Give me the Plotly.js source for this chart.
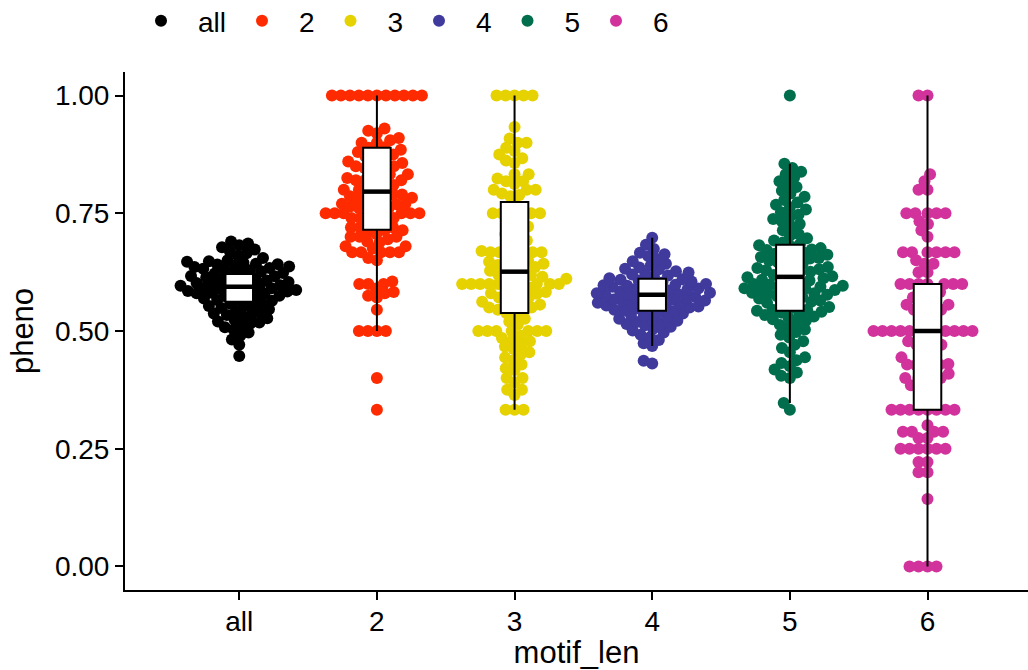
<!DOCTYPE html>
<html><head><meta charset="utf-8">
<script src="https://cdn.plot.ly/plotly-3.0.1.min.js"></script>
<style>html,body{margin:0;padding:0;background:#fff}#chart{width:1028px;height:670px}</style>
</head><body><div id="chart"></div>
<script>
// ---------------- data ----------------
const categories = ['all', '2', '3', '4', '5', '6'];
const yTickVals = [0, 0.25, 0.5, 0.75, 1];
const yTickText = ['0.00', '0.25', '0.50', '0.75', '1.00'];

const phenoAll = [0.447, 0.471, 0.482, 0.49, 0.497, 0.503, 0.508, 0.512, 0.516, 0.518, 0.52, 0.524, 0.527, 0.531, 0.534, 0.535, 0.537, 0.54, 0.543, 0.546, 0.549, 0.552, 0.553, 0.555, 0.558, 0.561, 0.564, 0.566, 0.567, 0.569, 0.572, 0.574, 0.575, 0.577, 0.579, 0.58, 0.581, 0.583, 0.584, 0.585, 0.587, 0.588, 0.589, 0.591, 0.592, 0.593, 0.595, 0.596, 0.597, 0.6, 0.601, 0.602, 0.604, 0.605, 0.607, 0.609, 0.61, 0.612, 0.614, 0.616, 0.617, 0.62, 0.622, 0.623, 0.625, 0.627, 0.629, 0.63, 0.632, 0.634, 0.636, 0.637, 0.639, 0.641, 0.642, 0.643, 0.645, 0.647, 0.648, 0.65, 0.655, 0.66, 0.665, 0.669, 0.673, 0.678, 0.682, 0.686, 0.69];

const pheno2 = [1, 1, 1, 1, 1, 1, 1, 1, 1, 1, 1,
  0.93, 0.925, 0.92, 0.91, 0.905, 0.9, 0.9, 0.89, 0.889, 0.885, 0.88, 0.88,
  0.875, 0.87, 0.867, 0.86, 0.86, 0.857, 0.85, 0.85, 0.85, 0.846, 0.84,
  0.833, 0.833, 0.83, 0.825, 0.82, 0.82, 0.82, 0.818, 0.81, 0.81, 0.8, 0.8, 0.8, 0.8,
  0.79, 0.79, 0.786, 0.783, 0.78, 0.78, 0.78, 0.778, 0.77, 0.77, 0.769, 0.765, 0.76, 0.76, 0.76, 0.76,
  0.75, 0.75, 0.75, 0.75, 0.75, 0.75, 0.745, 0.74, 0.74, 0.74, 0.735, 0.73,
  0.727, 0.72, 0.72, 0.72, 0.714, 0.714, 0.71, 0.706, 0.7, 0.7, 0.7, 0.695, 0.69,
  0.688, 0.68, 0.68, 0.675, 0.667, 0.667, 0.667, 0.667, 0.667, 0.655, 0.65,
  0.605, 0.6, 0.6, 0.6, 0.59, 0.583, 0.58, 0.575, 0.571, 0.545,
  0.5, 0.5, 0.5, 0.5, 0.4, 0.333];

const pheno3 = [1, 1, 1, 1, 1, 0.933, 0.909, 0.9, 0.9, 0.889, 0.882, 0.875, 0.867, 0.862, 0.857,
  0.833, 0.833, 0.824, 0.818, 0.818, 0.812, 0.8, 0.8, 0.8, 0.792, 0.789, 0.786, 0.769,
  0.75, 0.75, 0.75, 0.75, 0.75, 0.741, 0.733, 0.722, 0.72, 0.714, 0.706, 0.7, 0.692, 0.684, 0.68,
  0.67, 0.667, 0.667, 0.667, 0.667, 0.667, 0.667, 0.654, 0.65, 0.647, 0.645, 0.643, 0.64, 0.636, 0.636,
  0.632, 0.628, 0.625, 0.62, 0.619, 0.615, 0.611, 0.61, 0.609, 0.605, 0.6, 0.6, 0.6, 0.6, 0.6, 0.6, 0.6, 0.6,
  0.593, 0.59, 0.588, 0.583, 0.58, 0.579, 0.577, 0.571, 0.571, 0.567, 0.562, 0.56, 0.556, 0.552,
  0.55, 0.55, 0.545, 0.545, 0.538, 0.533, 0.526, 0.52, 0.514, 0.5, 0.5, 0.5, 0.5, 0.5, 0.5, 0.5,
  0.49, 0.485, 0.481, 0.478, 0.471, 0.467, 0.462, 0.455, 0.45, 0.444, 0.438, 0.429, 0.421,
  0.417, 0.4, 0.4, 0.391, 0.375, 0.375, 0.364, 0.333, 0.333, 0.333];

const pheno4 = [0.431, 0.437, 0.468, 0.474, 0.481, 0.487, 0.492, 0.497, 0.501, 0.505, 0.509, 0.512, 0.515, 0.516, 0.519, 0.522, 0.525, 0.526, 0.529, 0.532, 0.534, 0.537, 0.539, 0.542, 0.544, 0.545, 0.546, 0.548, 0.55, 0.551, 0.552, 0.554, 0.556, 0.557, 0.558, 0.56, 0.562, 0.563, 0.565, 0.566, 0.567, 0.569, 0.57, 0.572, 0.574, 0.575, 0.576, 0.577, 0.579, 0.58, 0.581, 0.583, 0.584, 0.586, 0.588, 0.589, 0.59, 0.592, 0.594, 0.596, 0.597, 0.598, 0.6, 0.602, 0.603, 0.605, 0.607, 0.609, 0.61, 0.612, 0.615, 0.618, 0.62, 0.621, 0.624, 0.627, 0.631, 0.632, 0.635, 0.639, 0.643, 0.648, 0.653, 0.659, 0.663, 0.666, 0.674, 0.683, 0.698];

const pheno5 = [0.333, 0.347, 0.4, 0.405, 0.412, 0.418, 0.425, 0.432, 0.438, 0.444, 0.455, 0.464, 0.471, 0.478, 0.486, 0.492, 0.498, 0.503, 0.508, 0.513, 0.518, 0.522, 0.525, 0.528, 0.531, 0.534, 0.536, 0.539, 0.541, 0.543, 0.545, 0.545, 0.548, 0.551, 0.555, 0.558, 0.56, 0.562, 0.565, 0.567, 0.569, 0.572, 0.574, 0.577, 0.579, 0.58, 0.581, 0.583, 0.585, 0.587, 0.589, 0.59, 0.591, 0.593, 0.594, 0.596, 0.599, 0.6, 0.602, 0.604, 0.607, 0.609, 0.611, 0.612, 0.614, 0.616, 0.619, 0.621, 0.624, 0.626, 0.629, 0.63, 0.631, 0.634, 0.636, 0.639, 0.643, 0.646, 0.649, 0.651, 0.654, 0.655, 0.657, 0.659, 0.662, 0.664, 0.667, 0.669, 0.672, 0.673, 0.676, 0.679, 0.682, 0.685, 0.688, 0.692, 0.697, 0.702, 0.706, 0.714, 0.722, 0.727, 0.733, 0.738, 0.742, 0.747, 0.752, 0.758, 0.763, 0.768, 0.773, 0.778, 0.785, 0.792, 0.798, 0.806, 0.812, 0.818, 0.826, 0.833, 0.838, 0.846, 0.855, 1.0];

const pheno6 = [1, 1, 0.833, 0.818, 0.8, 0.8, 0.75, 0.75, 0.75, 0.75, 0.75, 0.733, 0.727, 0.714, 0.7,
  0.667, 0.667, 0.667, 0.667, 0.667, 0.667, 0.65, 0.643, 0.643, 0.625, 0.625,
  0.6, 0.6, 0.6, 0.6, 0.6, 0.6, 0.6, 0.583, 0.571, 0.571, 0.571, 0.556, 0.556, 0.556,
  0.545, 0.545, 0.533, 0.533, 0.52, 0.5, 0.5, 0.5, 0.5, 0.5, 0.5, 0.5, 0.5, 0.5, 0.5, 0.5, 0.5,
  0.478, 0.471, 0.471, 0.462, 0.462, 0.444, 0.444, 0.43, 0.429, 0.429, 0.428, 0.417, 0.417, 0.409,
  0.4, 0.4, 0.4, 0.4, 0.385, 0.385, 0.375, 0.375, 0.357, 0.35,
  0.333, 0.333, 0.333, 0.333, 0.333, 0.333, 0.333, 0.333, 0.3, 0.286, 0.286, 0.286, 0.286,
  0.273, 0.273, 0.25, 0.25, 0.25, 0.25, 0.25, 0.25, 0.222, 0.222, 0.2, 0.2, 0.143, 0, 0, 0, 0];

// box statistics
const boxLower  = [0.471, 0.5,   0.333, 0.468, 0.347, 0];
const boxQ1     = [0.562, 0.715, 0.538, 0.543, 0.543, 0.333];
const boxMedian = [0.594, 0.796, 0.626, 0.577, 0.615, 0.5];
const boxQ3     = [0.621, 0.889, 0.774, 0.611, 0.683, 0.6];
const boxUpper  = [0.69,  1,     1,     0.698, 0.855, 1];

// ---------------- styling ----------------
const groupValues = [phenoAll, pheno2, pheno3, pheno4, pheno5, pheno6];
const colors = ['#000000', '#FF2B00', '#E5D200', '#3F3A9C', '#006E4C', '#D2329B'];
const W = 1028, H = 670;
const M = {l: 125, r: 0, t: 72, b: 80, pad: 0};
const xRange = [-0.83, 5.73], yRange = [-0.05, 1.05];
const FONT = 'Liberation Sans, Arial, Helvetica, sans-serif';
const DOT = 12, SPACING = 9, BOX_W = 0.2;

const pxPerX = (W - M.l - M.r) / (xRange[1] - xRange[0]);
const pxPerY = (H - M.t - M.b) / (yRange[1] - yRange[0]);

// beeswarm ("swarm" method, ascending priority) computed in pixel space
function swarmOffsets(vals) {
  const order = vals.map((v, i) => i).sort((a, b) => vals[a] - vals[b] || a - b);
  const placed = [];
  const out = new Array(vals.length).fill(0);
  const s2 = SPACING * SPACING;
  for (const i of order) {
    const y = vals[i] * pxPerY;
    const near = placed.filter(p => Math.abs(p.y - y) < SPACING);
    const cands = [0];
    for (const p of near) {
      const dx = Math.sqrt(s2 - (p.y - y) * (p.y - y));
      cands.push(p.x + dx, p.x - dx);
    }
    cands.sort((a, b) => Math.abs(a) - Math.abs(b) || a - b);
    for (const c of cands) {
      if (near.every(p => (p.x - c) * (p.x - c) + (p.y - y) * (p.y - y) >= s2 - 1e-6)) {
        out[i] = c; placed.push({x: c, y: y}); break;
      }
    }
  }
  return out;
}

const traces = [];
groupValues.forEach((vals, g) => {
  const off = swarmOffsets(vals);
  traces.push({
    type: 'scatter', mode: 'markers', name: categories[g],
    legend: g === 0 ? 'legend' : 'legend2',
    x: off.map(o => g + o / pxPerX), y: vals,
    marker: {color: colors[g], size: DOT, line: {width: 0}},
    hoverinfo: 'skip', xaxis: 'x', yaxis: 'y'
  });
});

// boxes on an overlaying subplot so they sit above the points
const positions = categories.map((c, i) => i);
traces.push({
  type: 'box', x: positions, q1: boxQ1, median: boxMedian, q3: boxQ3,
  lowerfence: boxLower, upperfence: boxUpper,
  width: BOX_W, whiskerwidth: 0, boxpoints: false,
  fillcolor: '#ffffff', line: {color: '#000000', width: 2},
  showlegend: false, hoverinfo: 'skip', xaxis: 'x2', yaxis: 'y2'
});
// thick median bars
const mx = [], my = [];
positions.forEach((p, i) => { mx.push(p - BOX_W / 2, p + BOX_W / 2, null); my.push(boxMedian[i], boxMedian[i], null); });
traces.push({
  type: 'scatter', mode: 'lines', x: mx, y: my, line: {color: '#000000', width: 4.5},
  showlegend: false, hoverinfo: 'skip', xaxis: 'x2', yaxis: 'y2'
});

const axisCommon = {
  showline: true, linecolor: '#000', linewidth: 2, mirror: false,
  ticks: 'outside', ticklen: 8, tickwidth: 2, tickcolor: '#000',
  showgrid: false, zeroline: false, tickfont: {family: FONT, size: 28, color: '#000'}
};

const legendCommon = {
  orientation: 'h', xref: 'container', yref: 'container', xanchor: 'left', yanchor: 'middle',
  y: 1 - 21 / H, itemwidth: 64, font: {family: FONT, size: 28, color: '#000'},
  bgcolor: 'rgba(0,0,0,0)', borderwidth: 0, itemclick: false, itemdoubleclick: false
};

const layout = {
  width: W, height: H, margin: M,
  paper_bgcolor: '#ffffff', plot_bgcolor: '#ffffff',
  font: {family: FONT, color: '#000'},
  showlegend: true,
  legend: Object.assign({}, legendCommon, {x: 124 / W}),
  legend2: Object.assign({}, legendCommon, {x: 225 / W, entrywidth: 9.5}),
  xaxis: Object.assign({}, axisCommon, {
    range: xRange, tickvals: positions, ticktext: categories, ticklabelstandoff: -3,
    title: {text: 'motif_len', font: {family: FONT, size: 31, color: '#000'}, standoff: 12}
  }),
  yaxis: Object.assign({}, axisCommon, {
    range: yRange, tickvals: yTickVals, ticktext: yTickText,
    title: {text: 'pheno', font: {family: FONT, size: 31, color: '#000'}, standoff: 12}
  }),
  xaxis2: {overlaying: 'x', range: xRange, visible: false, anchor: 'y2'},
  yaxis2: {overlaying: 'y', range: yRange, visible: false, anchor: 'x2'}
};

Plotly.newPlot('chart', traces, layout, {staticPlot: true, displayModeBar: false});
</script></body></html>
